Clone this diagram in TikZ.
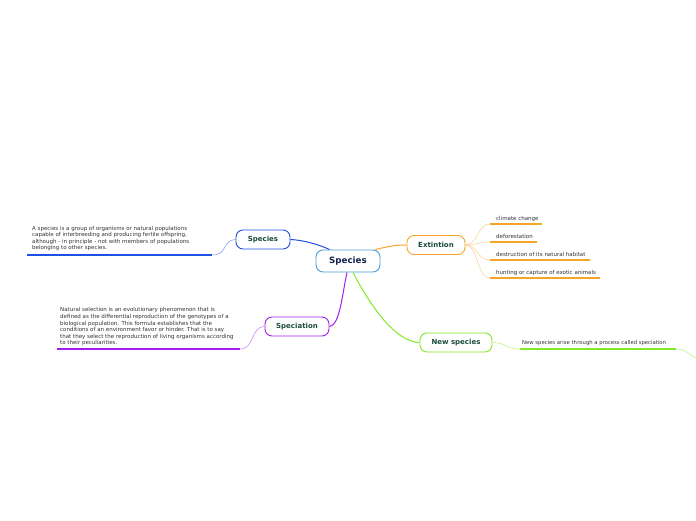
\documentclass[tikz,border=0pt]{standalone}
\usepackage{fontspec}
\setmainfont{DejaVu Sans}
\usetikzlibrary{positioning}
\definecolor{myroot}{RGB}{74, 158, 218}
\definecolor{myblue}{RGB}{30, 80, 225}
\definecolor{myorange}{RGB}{247, 165, 40}
\definecolor{mypurple}{RGB}{160, 30, 235}
\definecolor{mygreen}{RGB}{130, 232, 40}
\definecolor{mytext}{RGB}{25, 75, 60}
\definecolor{mynavy}{RGB}{20, 35, 75}
\definecolor{mygray}{RGB}{50, 50, 50}

\begin{document}
\begin{tikzpicture}[x=1pt,y=-1pt,
  topic/.style={draw, rounded corners=7pt, line width=0.9pt, fill=white, inner sep=0pt,
    minimum height=19pt, text=mytext, font=\bfseries\fontsize{7}{8}\selectfont},
  leaf/.style={inner sep=0pt, text=mygray, align=left, font=\fontsize{5.5}{6.6}\selectfont},
  branch/.style={line width=1pt},
  twig/.style={line width=0.5pt},
  underline/.style={line width=1.2pt}
]
\useasboundingbox (0,0) rectangle (696,520);

%main topics
\node[topic, draw=myroot, minimum width=64pt, minimum height=22pt, text=mynavy,
  font=\bfseries\fontsize{8.7}{10}\selectfont] (root) at (348,261) {Species};
\node[topic, draw=myblue, minimum width=54pt] (def) at (263,239.5) {Species};
\node[topic, draw=myorange, minimum width=58pt] (ext) at (436,245) {Extintion};
\node[topic, draw=mypurple, minimum width=64pt] (spec) at (297,326.5) {Speciation};
\node[topic, draw=mygreen, minimum width=72pt] (new) at (456,342.5) {New species};

\draw[branch, myblue] (root.north west) ++(14,0) .. controls (318,244) and (302,240) .. (def.east);
\draw[branch, myorange] (root.north east) ++(-5,0) .. controls (390,246) and (396,245) .. (ext.west);
\draw[branch, mypurple] (root.south) ++(-1,0) .. controls (342,295) and (340,325) .. (spec.east);
\draw[branch, mygreen] (root.south) ++(5,0) .. controls (370,305) and (395,342) .. (new.west);

%species definition
\node[leaf, anchor=north west] (deftext) at (32,225.8)
  {A species is a group of organisms or natural populations\\
   capable of interbreeding and producing fertile offspring,\\
   although - in principle - not with members of populations\\
   belonging to other species.};
\coordinate (defA) at (27,255);
\coordinate (defB) at (212,255);
\draw[underline, myblue] (defA) -- (defB);
\draw[twig, myblue!60] (defB) .. controls (228,255) and (222,240) .. (def.west);

%extinction causes
\foreach \y/\len/\txt [count=\i] in {224/52/climate change, 242/47/deforestation,
    260/100/destruction of its natural habitat, 278/110/hunting or capture of exotic animals}{
  \coordinate (cA\i) at (490,\y);
  \coordinate (cB\i) at (490+\len,\y);
  \node[leaf, anchor=base west] (cause\i) at (496,\y-4) {\txt};
  \draw[underline, myorange] (cA\i) -- (cB\i);
  \draw[twig, myorange!55] (ext.east) .. controls (478,245) and (477,\y) .. (cA\i);
}

%speciation text
\node[leaf, anchor=north west] (spectext) at (60,307.6)
  {Natural selection is an evolutionary phenomenon that is\\
   defined as the differential reproduction of the genotypes of a\\
   biological population. This formula establishes that the\\
   conditions of an environment favor or hinder. That is to say\\
   that they select the reproduction of living organisms according\\
   to their peculiarities.};
\coordinate (specA) at (57,349);
\coordinate (specB) at (240,349);
\draw[underline, mypurple] (specA) -- (specB);
\draw[twig, mypurple!60] (specB) .. controls (255,349) and (250,327) .. (spec.west);

%new species text
\node[leaf, anchor=base west, font=\fontsize{5.3}{6}\selectfont] (newtext) at (522,344) {New species arise th};
\node[leaf, right=0pt of newtext.base east, yshift=-0.8pt, anchor=base west,
  font=\fontsize{5.3}{6}\selectfont] (newtext2) {rough a process called speciation};
\coordinate (newA) at (520,349);
\coordinate (newB) at (676,349);
\coordinate (newC) at (696,358);
\draw[underline, mygreen] (newA) -- (newB);
\draw[twig, mygreen!60] (new.east) .. controls (508,343) and (505,349) .. (newA);
\draw[twig, mygreen!60] (newB) .. controls (686,349) and (690,355) .. (newC);
\end{tikzpicture}
\end{document}
